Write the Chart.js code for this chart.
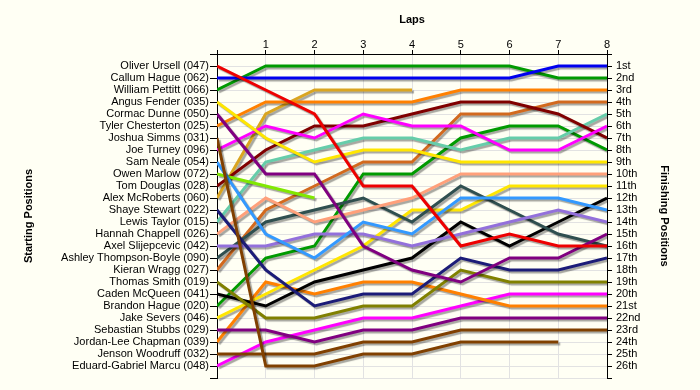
<!DOCTYPE html>
<html>
<head>
<meta charset="utf-8">
<script src="https://cdn.jsdelivr.net/npm/chart.js@4.4.0/dist/chart.umd.min.js"></script>
<style>
    html, body { margin: 0; padding: 0; background: #fffff4; }
    canvas { display: block; }
</style>
</head>
<body>
<canvas id="lapChart" width="700" height="390"></canvas>
<script>
const laps = [0, 1, 2, 3, 4, 5, 6, 7, 8];

const drivers = [
    'Oliver Ursell (047)', 'Callum Hague (062)', 'William Pettitt (066)', 'Angus Fender (035)',
    'Cormac Dunne (050)', 'Tyler Chesterton (025)', 'Joshua Simms (031)', 'Joe Turney (096)',
    'Sam Neale (054)', 'Owen Marlow (072)', 'Tom Douglas (028)', 'Alex McRoberts (060)',
    'Shaye Stewart (022)', 'Lewis Taylor (015)', 'Hannah Chappell (026)', 'Axel Slijepcevic (042)',
    'Ashley Thompson-Boyle (090)', 'Kieran Wragg (027)', 'Thomas Smith (019)', 'Caden McQueen (041)',
    'Brandon Hague (020)', 'Jake Severs (046)', 'Sebastian Stubbs (029)', 'Jordan-Lee Chapman (039)',
    'Jenson Woodruff (032)', 'Eduard-Gabriel Marcu (048)'
];

const finishLabels = [
    '1st', '2nd', '3rd', '4th', '5th', '6th', '7th', '8th', '9th', '10th', '11th', '12th', '13th',
    '14th', '15th', '16th', '17th', '18th', '19th', '20th', '21st', '22nd', '23rd', '24th', '25th', '26th'
];

// position at the end of each lap (lap 0 = grid)
const posUrsell = [1, 3, 5, 11, 11, 16, 15, 16, 16];
const posCHague = [2, 2, 2, 2, 2, 2, 2, 1, 1];
const posPettitt = [3, 1, 1, 1, 1, 1, 1, 2, 2];
const posFender = [4, 7, 9, 8, 8, 9, 9, 9, 9];
const posDunne = [5, 10, 10, 16, 18, 19, 17, 17, 15];
const posChesterton = [6, 4, 4, 4, 4, 3, 3, 3, 3];
const posSimms = [7, 26, 26, 25, 25, 24, 24, 24];
const posTurney = [8, 6, 7, 5, 6, 6, 8, 8, 6];
const posNeale = [9, 15, 17, 14, 15, 12, 12, 12, 13];
const posMarlow = [10, 11, 12];
const posDouglas = [11, 8, 6, 6, 5, 4, 4, 5, 7];
const posMcRoberts = [12, 5, 3, 3, 3];
const posStewart = [13, 18, 21, 20, 20, 17, 18, 18, 17];
const posTaylor = [14, 9, 8, 7, 7, 8, 7, 7, 5];
const posChappell = [15, 12, 14, 13, 12, 10, 10, 10, 10];
const posSlijepcevic = [16, 16, 15, 15, 16, 15, 14, 13, 14];
const posThompsonBoyle = [17, 14, 13, 12, 14, 11, 13, 15, 16];
const posWragg = [18, 13, 11, 9, 9, 5, 5, 4, 4];
const posSmith = [19, 22, 22, 21, 21, 18, 19, 19, 19];
const posMcQueen = [20, 21, 19, 18, 17, 14, 16, 14, 12];
const posBHague = [21, 17, 16, 10, 10, 7, 6, 6, 8];
const posSevers = [22, 20, 18, 16, 13, 13, 11, 11, 11];
const posStubbs = [23, 23, 24, 23, 23, 22, 22, 22, 22];
const posChapman = [24, 19, 20, 19, 19, 20, 21, 21, 21];
const posWoodruff = [25, 25, 25, 24, 24, 23, 23, 23, 23];
const posMarcu = [26, 24, 23, 22, 22, 21, 20, 20, 20];

const lapPositions = [
    posUrsell, posCHague, posPettitt, posFender, posDunne, posChesterton, posSimms, posTurney,
    posNeale, posMarlow, posDouglas, posMcRoberts, posStewart, posTaylor, posChappell, posSlijepcevic,
    posThompsonBoyle, posWragg, posSmith, posMcQueen, posBHague, posSevers, posStubbs, posChapman,
    posWoodruff, posMarcu
];

const lineColors = [
    '#ee0000', '#0000ee', '#009a00', '#ffe600', '#800080', '#ff8000', '#804000', '#ff00ff',
    '#3399ff', '#80e800', '#800000', '#daa520', '#1c1c78', '#66cdaa', '#ffa07a', '#9370db',
    '#2f4f4f', '#d2691e', '#808000', '#000000', '#009a00', '#ffe600', '#800080', '#ff8000',
    '#804000', '#ff00ff'
];

// grey drop shadow under every line
const lineShadow = {
    id: 'lineShadow',
    beforeDatasetsDraw(chart) {
        const ctx = chart.ctx;
        ctx.save();
        ctx.shadowColor = 'rgba(0, 0, 0, 0.35)';
        ctx.shadowOffsetX = 2;
        ctx.shadowOffsetY = 2;
        ctx.shadowBlur = 1;
    },
    afterDatasetsDraw(chart) {
        chart.ctx.restore();
    }
};

const datasets = lapPositions.map((pos, i) => ({
    label: drivers[i],
    data: pos.map((p, lap) => ({ x: laps[lap], y: p })),
    borderColor: lineColors[i],
    backgroundColor: lineColors[i],
    borderWidth: 3,
    pointRadius: 0,
    tension: 0,
    fill: false,
    yAxisID: 'y'
}));

const tickFont = { family: 'Liberation Sans', size: 11 };
const titleFont = { family: 'Liberation Sans', size: 11, weight: 'bold' };
const gridColor = '#e2e2e2';

var lapChart = new Chart('lapChart', {
    type: 'line',
    data: { datasets: datasets },
    plugins: [lineShadow],
    options: {
        responsive: false,
        animation: false,
        devicePixelRatio: 1,
        layout: { padding: { left: 12, right: 0, top: 0, bottom: 12 } },
        plugins: {
            legend: { display: false },
            tooltip: { enabled: false }
        },
        scales: {
            x: {
                type: 'linear',
                position: 'top',
                min: 0,
                max: 8,
                afterFit: (scale) => { scale.height = 54; },
                ticks: {
                    stepSize: 1,
                    padding: -2,
                    color: '#000',
                    font: tickFont,
                    callback: (v) => (v === 0 ? '' : v)
                },
                grid: { color: gridColor, tickColor: '#000', tickLength: 4 },
                border: { color: '#000' },
                title: { display: true, text: 'Laps', color: '#000', font: titleFont, padding: { top: 13, bottom: 0 } }
            },
            y: {
                type: 'linear',
                position: 'left',
                reverse: true,
                min: 0,
                max: 27,
                afterFit: (scale) => { scale.width = 205; },
                ticks: {
                    stepSize: 1,
                    autoSkip: false,
                    padding: 1,
                    color: '#000',
                    font: tickFont,
                    callback: (v) => (v >= 1 && v <= drivers.length ? drivers[v - 1] : '')
                },
                grid: { color: gridColor, tickColor: '#000', tickLength: 7 },
                border: { color: '#000' },
                title: { display: true, text: 'Starting Positions', color: '#000', font: titleFont, padding: { top: 10, bottom: 0 } }
            },
            y2: {
                type: 'linear',
                position: 'right',
                reverse: true,
                min: 0,
                max: 27,
                afterFit: (scale) => { scale.width = 93; },
                ticks: {
                    stepSize: 1,
                    autoSkip: false,
                    padding: 4,
                    color: '#000',
                    font: tickFont,
                    callback: (v) => (v >= 1 && v <= finishLabels.length ? finishLabels[v - 1] : '')
                },
                grid: { drawOnChartArea: false, tickColor: '#000', tickLength: 5 },
                border: { color: '#000' },
                title: { display: true, text: 'Finishing Positions', color: '#000', font: titleFont, padding: { top: 29, bottom: 0 } }
            }
        }
    }
});
</script>
</body>
</html>
